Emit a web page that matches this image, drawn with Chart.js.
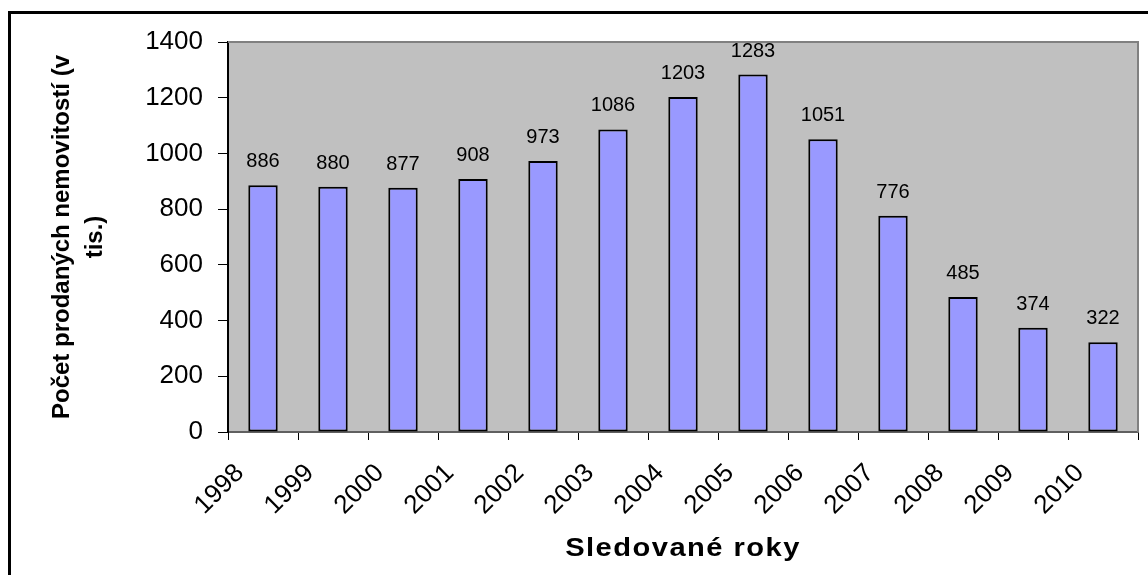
<!DOCTYPE html>
<html>
<head>
<meta charset="utf-8">
<script src="https://cdn.jsdelivr.net/npm/chart.js@4.4.1/dist/chart.umd.min.js"></script>
<style>
  html, body { margin: 0; padding: 0; background: #ffffff; }
  #wrap { position: relative; width: 1148px; height: 575px; }
</style>
</head>
<body>
<div id="wrap"><canvas id="salesChart" width="1148" height="575"></canvas></div>
<script>
const years = ['1998', '1999', '2000', '2001', '2002', '2003', '2004', '2005', '2006', '2007', '2008', '2009', '2010'];
const soldProperties = [886, 880, 877, 908, 973, 1086, 1203, 1283, 1051, 776, 485, 374, 322];
const yTicks = [0, 200, 400, 600, 800, 1000, 1200, 1400];
const yTitle = ['Počet prodaných nemovitostí (v', 'tis.)'];
const xTitle = 'Sledované roky';

const FONT = '"Liberation Sans", Arial, sans-serif';

// grey plot background, plot frame, outer frame and the x title
const framePlugin = {
    id: 'frame',
    beforeDraw(chart) {
        const { ctx, chartArea: a } = chart;
        ctx.save();
        ctx.fillStyle = '#c0c0c0';
        ctx.fillRect(a.left, a.top, a.right - a.left, a.bottom - a.top);
        ctx.strokeStyle = '#000000';
        ctx.lineWidth = 3;
        ctx.beginPath();
        ctx.moveTo(9.5, chart.height + 5);
        ctx.lineTo(9.5, 12.5);
        ctx.lineTo(chart.width + 5, 12.5);
        ctx.stroke();
        ctx.restore();
    },
    afterDraw(chart) {
        const { ctx, chartArea: a } = chart;
        ctx.save();
        ctx.strokeStyle = '#808080';
        ctx.lineWidth = 2;
        ctx.beginPath();
        ctx.moveTo(a.left, a.top);
        ctx.lineTo(a.right, a.top);
        ctx.lineTo(a.right, a.bottom);
        ctx.stroke();

        // x title, a bit wider like the original
        ctx.font = 'bold 26px ' + FONT;
        ctx.fillStyle = '#000000';
        ctx.textAlign = 'center';
        ctx.textBaseline = 'alphabetic';
        ctx.letterSpacing = '1.3px';
        ctx.translate((a.left + a.right) / 2, 556);
        ctx.scale(1.12, 1);
        ctx.fillText(xTitle, 0, 0);
        ctx.restore();
    }
};

// value above each bar
const valueLabels = {
    id: 'valueLabels',
    afterDatasetsDraw(chart) {
        const { ctx } = chart;
        const meta = chart.getDatasetMeta(0);
        ctx.save();
        ctx.font = '20px ' + FONT;
        ctx.fillStyle = '#000000';
        ctx.textAlign = 'center';
        ctx.textBaseline = 'alphabetic';
        meta.data.forEach((bar, i) => {
            ctx.fillText(String(soldProperties[i]), bar.x, bar.y - 18);
        });
        ctx.restore();
    }
};

const ctx = document.getElementById('salesChart');
new Chart(ctx, {
    type: 'bar',
    data: {
        labels: years,
        datasets: [{
            data: soldProperties,
            backgroundColor: '#9999ff',
            borderColor: '#000000',
            borderWidth: 2,
            borderSkipped: false,
            categoryPercentage: 1,
            barPercentage: 0.42
        }]
    },
    options: {
        responsive: false,
        animation: false,
        layout: {
            padding: { left: 0, top: 42, right: 10, bottom: 0 }
        },
        plugins: {
            legend: { display: false },
            tooltip: { enabled: false }
        },
        scales: {
            x: {
                offset: true,
                grid: {
                    offset: true,
                    drawOnChartArea: false,
                    drawTicks: true,
                    tickLength: 8,
                    color: '#000000',
                    lineWidth: 1
                },
                border: { color: '#606060', width: 2 },
                ticks: {
                    color: '#000000',
                    font: { family: FONT, size: 26 },
                    minRotation: 45,
                    maxRotation: 45,
                    autoSkip: false,
                    labelOffset: -23,
                    padding: 18
                },
                afterFit(scale) {
                    scale.height = 143;
                    scale.paddingLeft = 0;
                    scale.paddingRight = 0;
                }
            },
            y: {
                min: 0,
                max: 1400,
                afterBuildTicks(scale) { scale.ticks = yTicks.map(v => ({ value: v })); },
                grid: {
                    drawOnChartArea: false,
                    drawTicks: true,
                    tickLength: 10,
                    color: '#000000'
                },
                border: { color: '#000000', width: 2 },
                ticks: {
                    color: '#000000',
                    font: { family: FONT, size: 26 },
                    padding: 15,
                    callback: v => String(v)
                },
                title: {
                    display: true,
                    text: yTitle,
                    color: '#000000',
                    font: { family: FONT, size: 24, weight: 'bold', lineHeight: 1.38 },
                    padding: { top: 46, bottom: 0 }
                },
                afterFit(scale) { scale.width = 228; }
            }
        }
    },
    plugins: [framePlugin, valueLabels]
});
</script>
</body>
</html>
